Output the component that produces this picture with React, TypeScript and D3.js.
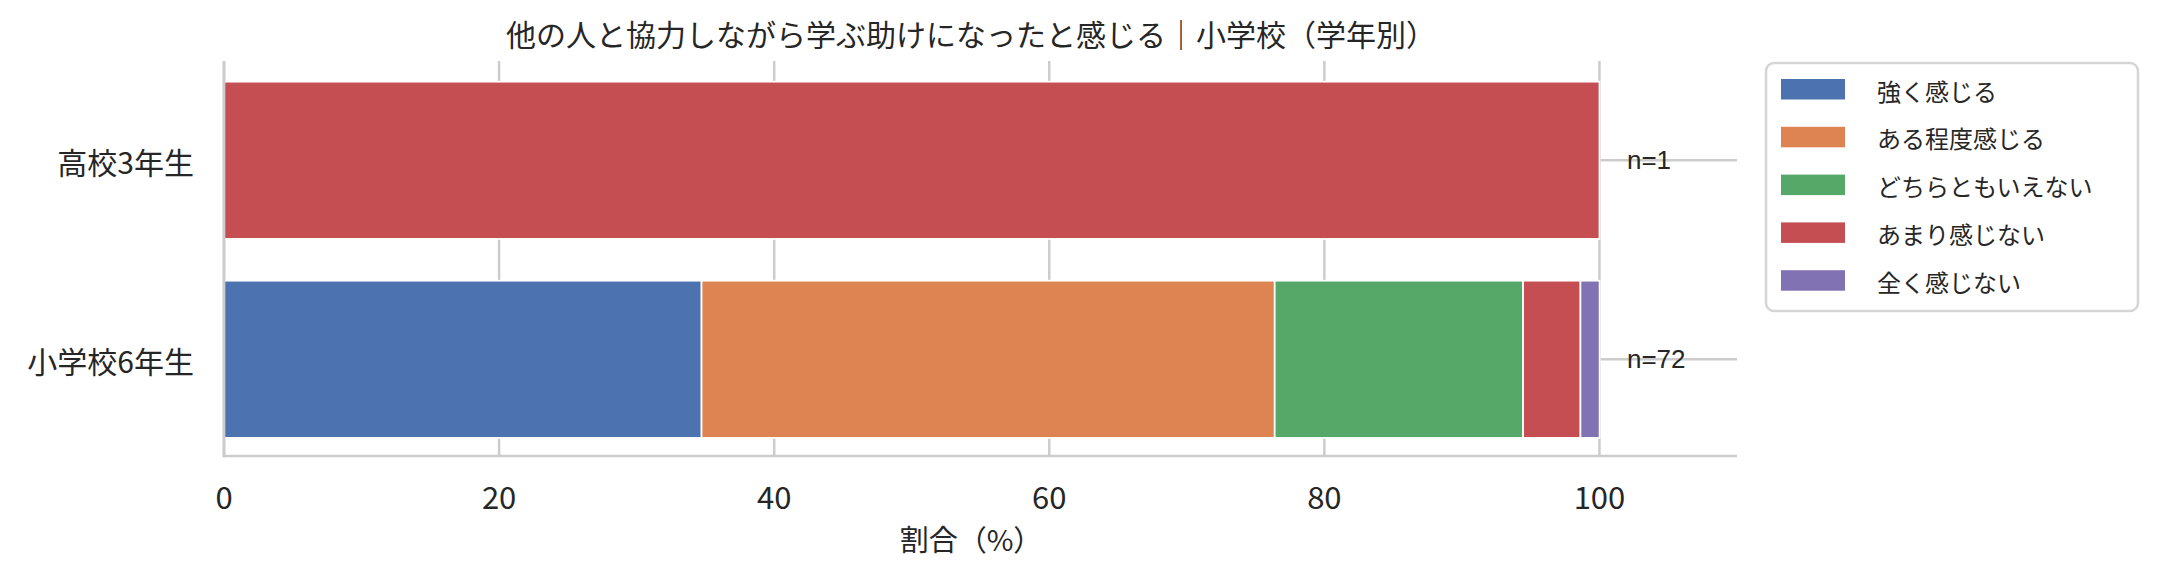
import React from "react";
import * as d3 from "d3";

const title = "他の人と協力しながら学ぶ助けになったと感じる｜小学校（学年別）";
const xLabel = "割合（%）";
const categories = ["高校3年生", "小学校6年生"];
const nCounts = [1, 72];
const seriesNames = ["強く感じる", "ある程度感じる", "どちらともいえない", "あまり感じない", "全く感じない"];
const seriesColors = ["#4C72B0", "#DD8452", "#55A868", "#C44E52", "#8172B3"];
// percentages per category (rows follow `categories`)
const s1 = [0, 34.72];
const s2 = [0, 41.67];
const s3 = [0, 18.06];
const s4 = [100, 4.17];
const s5 = [0, 1.39];
const seriesValues = [s1, s2, s3, s4, s5];
const xTicks = [0, 20, 40, 60, 80, 100];

const W = 2160;
const H = 577;
const axLeft = 224;
const axRight = 1737;
const axTop = 61;
const axBottom = 456;
const CJK = "'Noto Sans CJK JP', 'Noto Sans', sans-serif";
const TXT = "#262626";
const GRID = "#cccccc";

export default function App() {
  const x = d3.scaleLinear().domain([0, 110]).range([axLeft, axRight]);
  const y = d3.scaleLinear().domain([0, 1]).range([160.3, 359.3]);
  const bandPx = y(1) - y(0);
  const barH = 0.79 * bandPx;

  const table = categories.map((c, i) => {
    const row: any = { cat: c, idx: i };
    seriesNames.forEach((s, j) => (row[s] = seriesValues[j][i]));
    return row;
  });
  const stacked = d3.stack().keys(seriesNames)(table as any);

  return (
    <svg
      width={W}
      height={H}
      style={{ position: "absolute", left: 0, top: 0, display: "block", background: "#fff" }}
    >
      <rect x={0} y={0} width={W} height={H} fill="#fff" />
      {/* grid */}
      {xTicks.map((t) => (
        <line key={"gx" + t} x1={x(t)} x2={x(t)} y1={axTop} y2={axBottom} stroke={GRID} strokeWidth={2.5} />
      ))}
      {categories.map((c, i) => (
        <line key={"gy" + c} x1={axLeft} x2={axRight} y1={y(i)} y2={y(i)} stroke={GRID} strokeWidth={2.5} />
      ))}
      {/* bars */}
      {stacked.map((layer, j) => (
        <g key={"s" + j}>
          {layer.map((d, i) =>
            d[1] - d[0] > 0 ? (
              <rect
                key={i}
                x={x(d[0])}
                width={x(d[1]) - x(d[0])}
                y={y(i) - barH / 2}
                height={barH}
                fill={seriesColors[j]}
                stroke="#fff"
                strokeWidth={1.7}
              />
            ) : null
          )}
        </g>
      ))}
      {/* spines */}
      <line x1={axLeft} x2={axLeft} y1={axTop} y2={axBottom + 1.3} stroke={GRID} strokeWidth={2.7} />
      <line x1={axLeft - 1.3} x2={axRight} y1={axBottom} y2={axBottom} stroke={GRID} strokeWidth={2.7} />
      {/* n labels */}
      {categories.map((c, i) => (
        <text
          key={"n" + c}
          x={x(102)}
          y={y(i)}
          dominantBaseline="central"
          fontFamily="'Liberation Sans', Arial, sans-serif"
          fontSize={26}
          fill={TXT}
        >
          {"n=" + nCounts[i]}
        </text>
      ))}
      {/* y tick labels */}
      {categories.map((c, i) => (
        <text
          key={"yl" + c}
          x={194}
          y={y(i) + 1}
          textAnchor="end"
          dominantBaseline="central"
          fontFamily={CJK}
          fontSize={30}
          fill={TXT}
        >
          {c}
        </text>
      ))}
      {/* x tick labels */}
      {xTicks.map((t) => (
        <text
          key={"xl" + t}
          x={x(t)}
          y={509}
          textAnchor="middle"
          fontFamily={CJK}
          fontSize={31}
          fill={TXT}
        >
          {t}
        </text>
      ))}
      <text
        x={971}
        y={538}
        textAnchor="middle"
        dominantBaseline="central"
        fontFamily={CJK}
        fontSize={29}
        fill={TXT}
      >
        {xLabel}
      </text>
      <text
        x={971}
        y={33}
        textAnchor="middle"
        dominantBaseline="central"
        fontFamily={CJK}
        fontSize={30}
        fill={TXT}
      >
        {title}
      </text>
      {/* legend */}
      <rect x={1766} y={63} width={372} height={248} rx={8} ry={8} fill="#fff" stroke="#d6d6d6" strokeWidth={2.6} />
      {seriesNames.map((s, j) => {
        const cy = 89 + j * 47.8;
        return (
          <g key={"lg" + j}>
            <rect x={1781} y={cy - 10} width={64} height={20.5} fill={seriesColors[j]} />
            <text
              x={1877}
              y={cy + 1}
              dominantBaseline="central"
              fontFamily={CJK}
              fontSize={24}
              fill={TXT}
            >
              {s}
            </text>
          </g>
        );
      })}
    </svg>
  );
}
